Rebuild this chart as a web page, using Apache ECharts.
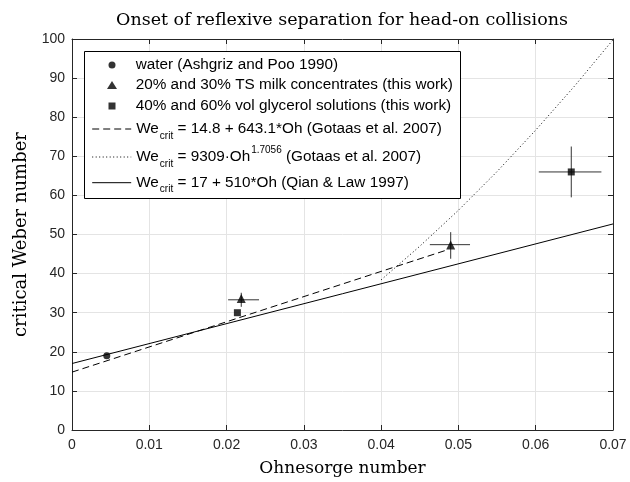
<!DOCTYPE html>
<html>
<head>
<meta charset="utf-8">
<script src="https://cdn.jsdelivr.net/npm/echarts@6/dist/echarts.min.js"></script>
<style>html,body{margin:0;padding:0;background:#fff}#c{width:630px;height:482px}</style>
</head>
<body>
<div id="c"></div>
<script>
// ---- data ----
const xTickLabels = ['0', '0.01', '0.02', '0.03', '0.04', '0.05', '0.06', '0.07'];
const yTickLabels = ['0', '10', '20', '30', '40', '50', '60', '70', '80', '90', '100'];

const waterPts = [[0.0045, 19.0]];
const milkPts = [[0.0219, 33.6], [0.0490, 47.3]];
const glycerolPts = [[0.0214, 30.0], [0.0646, 66.0]];
// [x, y, xLow, xHigh, yLow, yHigh]
const errorBars = [
  [0.0219, 33.3, 0.0202, 0.0242, 31.5, 35.1],
  [0.0490, 47.4, 0.0463, 0.0515, 43.8, 50.6],
  [0.0646, 66.0, 0.0604, 0.0685, 59.5, 72.5]
];
const gotaasLinX = [0, 0.0486];
const gotaasLinY = [14.8, 46.1];
const gotaasPowX = [0.040, 0.045, 0.050, 0.055, 0.060, 0.065, 0.070];
const gotaasPowY = [38.4, 47.0, 56.2, 66.1, 76.7, 87.9, 99.8];
const qianX = [0, 0.07];
const qianY = [17.0, 52.7];

const names = [
  'water (Ashgriz and Poo 1990)',
  '20% and 30% TS milk concentrates (this work)',
  '40% and 60% vol glycerol solutions (this work)',
  'We_crit = 14.8 + 643.1*Oh (Gotaas et al. 2007)',
  'We_crit = 9309·Oh^1.7056 (Gotaas et al. 2007)',
  'We_crit = 17 + 510*Oh (Qian & Law 1997)'
];
const legendRich = [
  null, null, null,
  '{n|We}{sub|crit}{n| = 14.8 + 643.1*Oh (Gotaas et al. 2007)}',
  '{n|We}{sub|crit}{n| = 9309·Oh}{sup|1.7056}{n| (Gotaas et al. 2007)}',
  '{n|We}{sub|crit}{n| = 17 + 510*Oh (Qian & Law 1997)}'
];

const zip = (xs, ys) => xs.map((x, i) => [x, ys[i]]);

// ---- styling ----
const AX = '#262626';
const SANS = 'Liberation Sans';
const SERIF = 'DejaVu Serif';
const G = { left: 72, top: 39, width: 541, height: 394 };
const LFS = 15.3;

const chart = echarts.init(document.getElementById('c'), null, { renderer: 'canvas' });

const rowCenters = [65, 85, 106, 129, 157, 182.7];
const iconW = [7, 10, 7, 39, 39, 39];
const iconH = [7, 8, 7, 14, 14, 14];
const lineTypes = [null, null, null, [7, 4], [1, 2.5], 'solid'];
const markerCX = 112;
const lineIconLeft = 91.7;
const textX = 135.7;

const richStyles = {
  n: { fontSize: LFS, fontFamily: SANS, color: '#000', lineHeight: 24 },
  sub: { fontSize: 10, fontFamily: SANS, color: '#000', padding: [14, 0, 0, 1] },
  sup: { fontSize: 10, fontFamily: SANS, color: '#000', padding: [0, 0, 14, 1] }
};

const legends = names.map((nm, i) => {
  const isMarker = i < 3;
  const left = isMarker ? markerCX - iconW[i] / 2 : lineIconLeft;
  const rich = Object.assign({}, richStyles);
  if (isMarker) {
    const pad = textX - (left + iconW[i] + 5);
    rich.p = { fontSize: LFS, fontFamily: SANS, color: '#000', lineHeight: 24, padding: [0, 0, 0, pad] };
  }
  const lg = {
    data: [nm],
    left: left,
    top: rowCenters[i] - 12,
    padding: 0,
    itemWidth: iconW[i],
    itemHeight: iconH[i],
    itemGap: 0,
    selectedMode: false,
    z: 6,
    textStyle: { fontSize: LFS, fontFamily: SANS, color: '#000', lineHeight: 24, rich: rich },
    formatter: (name) => legendRich[i] ? legendRich[i] : '{p|' + name + '}'
  };
  if (!isMarker) {
    lg.lineStyle = { color: '#000', width: 1, type: lineTypes[i] };
    lg.itemStyle = { color: 'rgba(0,0,0,0)', borderWidth: 0, opacity: 0 };
  }
  return lg;
});

const option = {
  animation: false,
  backgroundColor: '#fff',
  title: {
    text: 'Onset of reflexive separation for head-on collisions',
    left: 342,
    top: 11,
    textAlign: 'center',
    padding: 0,
    textStyle: { fontFamily: SERIF, fontSize: 17.5, fontWeight: 'normal', color: '#000' }
  },
  legend: legends,
  graphic: [{
    type: 'rect',
    z: 5,
    shape: { x: 84.5, y: 51.5, width: 376, height: 147 },
    style: { fill: '#fff', stroke: '#000', lineWidth: 1 }
  }],
  grid: G,
  xAxis: [{
    type: 'value', min: 0, max: 0.07, interval: 0.01,
    name: 'Ohnesorge number', nameLocation: 'middle', nameGap: 30,
    nameTextStyle: { fontFamily: SERIF, fontSize: 17, color: '#000' },
    axisLine: { show: true, onZero: false, lineStyle: { color: AX, width: 1 } },
    axisTick: { show: true, inside: true, length: 5, lineStyle: { color: AX } },
    axisLabel: { fontFamily: SANS, fontSize: 14, color: AX, margin: 8,
      formatter: (v) => xTickLabels[Math.round(v / 0.01)] },
    splitLine: { show: true, lineStyle: { color: '#e4e4e4', width: 1 } }
  }, {
    type: 'value', min: 0, max: 0.07, interval: 0.01, position: 'top',
    axisLine: { show: true, onZero: false, lineStyle: { color: AX, width: 1 } },
    axisTick: { show: true, inside: true, length: 5, lineStyle: { color: AX } },
    axisLabel: { show: false }, splitLine: { show: false }
  }],
  yAxis: [{
    type: 'value', min: 0, max: 100, interval: 10,
    name: 'critical Weber number', nameLocation: 'middle', nameGap: 40,
    nameTextStyle: { fontFamily: SERIF, fontSize: 18, color: '#000' },
    axisLine: { show: true, onZero: false, lineStyle: { color: AX, width: 1 } },
    axisTick: { show: true, inside: true, length: 5, lineStyle: { color: AX } },
    axisLabel: { fontFamily: SANS, fontSize: 14, color: AX, margin: 7,
      formatter: (v) => yTickLabels[Math.round(v / 10)] },
    splitLine: { show: true, lineStyle: { color: '#e4e4e4', width: 1 } }
  }, {
    type: 'value', min: 0, max: 100, interval: 10, position: 'right',
    axisLine: { show: true, onZero: false, lineStyle: { color: AX, width: 1 } },
    axisTick: { show: true, inside: true, length: 5, lineStyle: { color: AX } },
    axisLabel: { show: false }, splitLine: { show: false }
  }],
  series: [
    { name: names[0], type: 'scatter', data: waterPts, symbol: 'circle', symbolSize: 7,
      itemStyle: { color: '#000' }, z: 4 },
    { name: names[1], type: 'scatter', data: milkPts, symbol: 'triangle', symbolSize: [9, 9],
      itemStyle: { color: '#000' }, z: 4 },
    { name: names[2], type: 'scatter', data: glycerolPts, symbol: 'rect', symbolSize: 7,
      itemStyle: { color: '#000' }, z: 4 },
    { name: names[3], type: 'line', data: zip(gotaasLinX, gotaasLinY), symbol: 'none',
      lineStyle: { color: '#000', width: 1, type: [7, 4] }, z: 2 },
    { name: names[4], type: 'line', data: zip(gotaasPowX, gotaasPowY), symbol: 'none', smooth: false,
      lineStyle: { color: '#000', width: 1, type: [1, 2.5] }, z: 2 },
    { name: names[5], type: 'line', data: zip(qianX, qianY), symbol: 'none',
      lineStyle: { color: '#000', width: 1 }, z: 2 },
    { name: 'errorbars', type: 'custom', data: errorBars, z: 3,
      encode: { x: [0, 2, 3], y: [1, 4, 5] },
      renderItem: (params, api) => {
        const x = api.value(0), y = api.value(1);
        const pL = api.coord([api.value(2), y]);
        const pR = api.coord([api.value(3), y]);
        const pB = api.coord([x, api.value(4)]);
        const pT = api.coord([x, api.value(5)]);
        const st = { stroke: '#333', lineWidth: 1 };
        return { type: 'group', children: [
          { type: 'line', shape: { x1: pL[0], y1: pL[1], x2: pR[0], y2: pR[1] }, style: st },
          { type: 'line', shape: { x1: pB[0], y1: pB[1], x2: pT[0], y2: pT[1] }, style: st }
        ] };
      }
    }
  ]
};
chart.setOption(option);
</script>
</body>
</html>
